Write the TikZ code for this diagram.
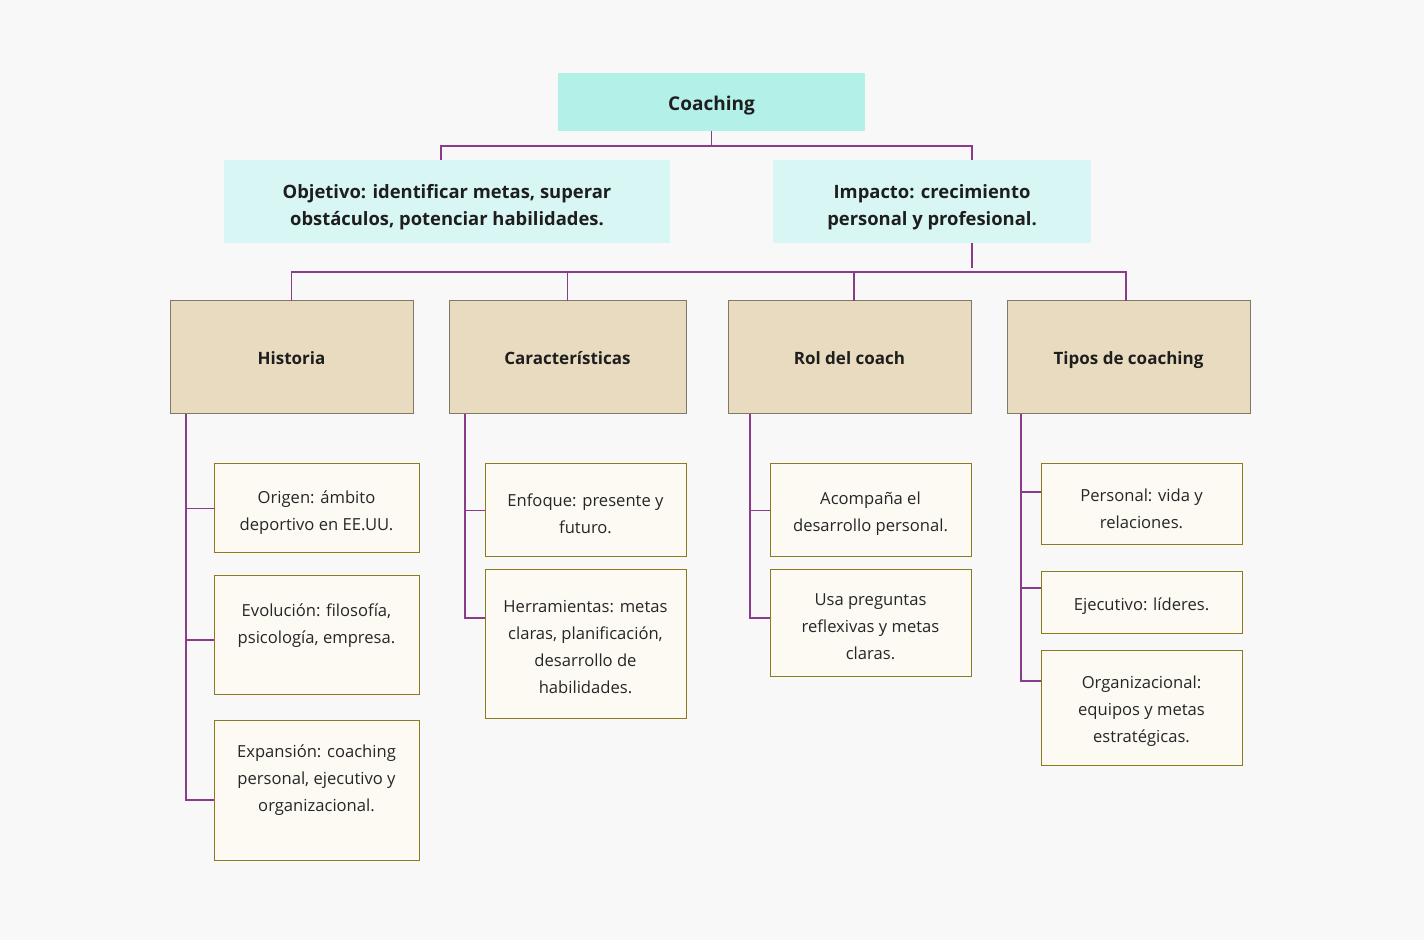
\documentclass[tikz,border=0pt]{standalone}
\usepackage{fontspec}
\setmainfont{Open Sans}
\usetikzlibrary{calc}
\definecolor{bg}{HTML}{F8F8F8}
\definecolor{rootfill}{HTML}{B2F0E8}
\definecolor{subfill}{HTML}{D8F7F4}
\definecolor{tanfill}{HTML}{E8DBC0}
\definecolor{tanline}{HTML}{80796A}
\definecolor{leaffill}{HTML}{FCFAF3}
\definecolor{leafline}{HTML}{8C7A1E}
\definecolor{connc}{HTML}{883C8A}
\definecolor{txt}{HTML}{262626}
\definecolor{btxt}{HTML}{1E1E1E}
\tikzset{
  boxbase/.style={rectangle, inner sep=0pt, outer sep=0pt},
  rootbox/.style={boxbase, fill=rootfill},
  subbox/.style={boxbase, fill=subfill},
  catbox/.style={boxbase, fill=tanfill, draw=tanline, line width=0.5pt},
  leafbox/.style={boxbase, fill=leaffill, draw=leafline, line width=0.5pt},
  roottext/.style={inner sep=0pt, anchor=base, text=btxt, font=\fontsize{9.5pt}{13.5pt}\selectfont\bfseries},
  subtext/.style={inner sep=0pt, align=center, text=btxt, font=\fontsize{9.2pt}{13.5pt}\selectfont\bfseries},
  cattext/.style={inner sep=0pt, anchor=base, text=btxt, font=\fontsize{8.5pt}{13.5pt}\selectfont\bfseries},
  leaftext/.style={inner sep=0pt, align=center, text=txt, font=\fontsize{8.3pt}{13.5pt}\selectfont},
  conn/.style={draw=connc, line width=0.6pt}
}
\begin{document}
\begin{tikzpicture}[x=0.5pt,y=-0.5pt]
\useasboundingbox[fill=bg] (0,0) rectangle (1424,940);
% top
\node[rootbox, minimum width=153.5pt, minimum height=29pt] (root) at (711.5,102) {};
\node[roottext] (roott) at (711.5,111) {Coaching};
\node[subbox, minimum width=223pt, minimum height=41.5pt] (obj) at (447,201.5) {};
\node[subtext] (objt) at (447,207.5) {Objetivo: identificar metas, superar\\obstáculos, potenciar habilidades.};
\node[subbox, minimum width=159pt, minimum height=41.5pt] (imp) at (932,201.5) {};
\node[subtext] (impt) at (932,207.5) {Impacto: crecimiento\\personal y profesional.};
% categories
\node[catbox, minimum width=121.5pt, minimum height=56.5pt] (hist) at (291.5,357.5) {};
\node[cattext] (histt) at (291.5,364.5) {Historia};
\node[catbox, minimum width=118.5pt, minimum height=56.5pt] (car) at (567.5,357.5) {};
\node[cattext] (cart) at (567.5,364.5) {Características};
\node[catbox, minimum width=121.5pt, minimum height=56.5pt] (rol) at (849.5,357.5) {};
\node[cattext] (rolt) at (849.5,364.5) {Rol del coach};
\node[catbox, minimum width=121.5pt, minimum height=56.5pt] (tip) at (1128.5,357.5) {};
\node[cattext] (tipt) at (1128.5,364.5) {Tipos de coaching};
% leaves: Historia
\node[leafbox, minimum width=102.5pt, minimum height=44.5pt] (h1) at (316.5,508.5) {};
\node[leaftext] (h1t) at (316.5,512.5) {Origen: ámbito\\deportivo en EE.UU.};
\node[leafbox, minimum width=102.5pt, minimum height=59pt] (h2) at (316.5,635) {};
\node[leaftext] (h2t) at (316.5,625.5) {Evolución: filosofía,\\psicología, empresa.};
\node[leafbox, minimum width=102.5pt, minimum height=70pt] (h3) at (316.5,790) {};
\node[leaftext] (h3t) at (316.5,780) {Expansión: coaching\\personal, ejecutivo y\\organizacional.};
% leaves: Caracteristicas
\node[leafbox, minimum width=100.5pt, minimum height=46.5pt] (c1) at (585.5,510.5) {};
\node[leaftext] (c1t) at (585.5,513.5) {Enfoque: presente y\\futuro.};
\node[leafbox, minimum width=100.5pt, minimum height=74pt] (c2) at (585.5,644) {};
\node[leaftext] (c2t) at (585.5,647.5) {Herramientas: metas\\claras, planificación,\\desarrollo de\\habilidades.};
% leaves: Rol
\node[leafbox, minimum width=100.5pt, minimum height=46.5pt] (r1) at (870.5,510.5) {};
\node[leaftext] (r1t) at (870.5,513.5) {Acompaña el\\desarrollo personal.};
\node[leafbox, minimum width=100.5pt, minimum height=53pt] (r2) at (870.5,623) {};
\node[leaftext] (r2t) at (870.5,627) {Usa preguntas\\reflexivas y metas\\claras.};
% leaves: Tipos
\node[leafbox, minimum width=100.5pt, minimum height=40.5pt] (t1) at (1141.5,504.5) {};
\node[leaftext] (t1t) at (1141.5,508.5) {Personal: vida y\\relaciones.};
\node[leafbox, minimum width=100.5pt, minimum height=30.5pt] (t2) at (1141.5,602.5) {};
\node[leaftext] (t2t) at (1141.5,606) {Ejecutivo: líderes.};
\node[leafbox, minimum width=100.5pt, minimum height=57.5pt] (t3) at (1141.5,707.5) {};
\node[leaftext] (t3t) at (1141.5,711) {Organizacional:\\equipos y metas\\estratégicas.};
% connectors top
\coordinate (rj) at ($(root.south)+(0,15)$);
\draw[conn] (root.south) -- (rj);
\draw[conn] ($(obj.north)+(-6,0)$) |- (rj) -| ($(imp.north)+(40,0)$);
\draw[conn] ($(imp.south)+(40,0)$) -- ++(0,25);
% bus
\coordinate (bus) at ($(hist.north)+(0,-29)$);
\draw[conn] (hist.north) |- (bus) -| ($(tip.north)+(-2.5,0)$);
\draw[conn] (car.north) -- (car.north |- bus);
\coordinate (rn) at ($(rol.north)+(4.5,0)$);
\draw[conn] (rn) -- (rn |- bus);
% spines Historia
\draw[conn] ($(hist.south west)+(16,0)$) |- ($(h3.west)+(0,10)$);
\draw[conn] (h1.west) -- ++(-28,0);
\draw[conn] ($(h2.west)+(0,5)$) -- ++(-28,0);
% Caracteristicas
\draw[conn] ($(car.south west)+(16,0)$) |- ($(c2.west)+(0,-26)$);
\draw[conn] (c1.west) -- ++(-20,0);
% Rol
\draw[conn] ($(rol.south west)+(22,0)$) |- ($(r2.west)+(0,-5)$);
\draw[conn] (r1.west) -- ++(-20,0);
% Tipos
\draw[conn] ($(tip.south west)+(14,0)$) |- ($(t3.west)+(0,-26.5)$);
\draw[conn] ($(t1.west)+(0,-12.5)$) -- ++(-20,0);
\draw[conn] ($(t2.west)+(0,-14.5)$) -- ++(-20,0);
\end{tikzpicture}
\end{document}
